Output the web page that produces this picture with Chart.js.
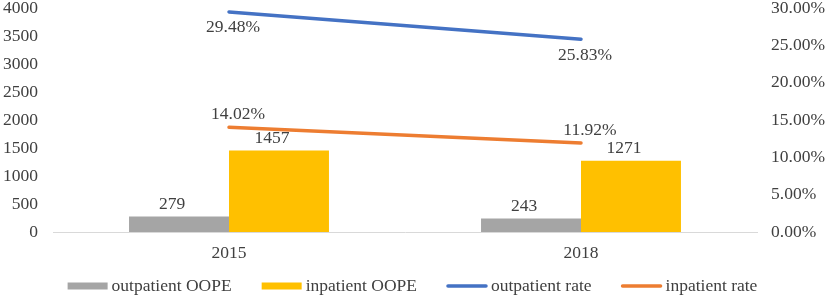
<!DOCTYPE html>
<html>
<head>
<meta charset="utf-8">
<script src="https://cdn.jsdelivr.net/npm/chart.js@4"></script>
<style>
  html, body { margin: 0; padding: 0; background: #fff; }
  #wrap { width: 829px; height: 298px; }
</style>
</head>
<body>
<div id="wrap"><canvas id="chart_oope"></canvas></div>
<script>
var years = ['2015', '2018'];
var outpatientOope = [279, 243];
var inpatientOope = [1457, 1271];
var outpatientRate = [29.48, 25.83];
var inpatientRate = [14.02, 11.92];

var textColor = '#404040';
var fontFamily = '"Liberation Serif", "Times New Roman", serif';
var fontSize = 17.5;

// draws the value labels next to bars and line points
var valueLabels = {
    id: 'valueLabels',
    afterDatasetsDraw: function(chart) {
        var ctx = chart.ctx;
        ctx.save();
        ctx.font = fontSize + 'px ' + fontFamily;
        ctx.fillStyle = textColor;
        ctx.textAlign = 'center';
        ctx.textBaseline = 'middle';
        chart.data.datasets.forEach(function(ds, i) {
            var meta = chart.getDatasetMeta(i);
            meta.data.forEach(function(el, j) {
                var v = ds.data[j];
                if (ds.type === 'bar') {
                    ctx.fillText(String(v), el.x - 7, el.y - 12);
                } else if (ds.labelPos === 'below') {
                    ctx.fillText(v.toFixed(2) + '%', el.x + 4, el.y + 16);
                } else {
                    ctx.fillText(v.toFixed(2) + '%', el.x + 9, el.y - 13);
                }
            });
        });
        ctx.restore();
    }
};

// legend in the bottom strip, bars as flat boxes and lines as strokes
var bottomLegend = {
    id: 'bottomLegend',
    afterDraw: function(chart) {
        var ctx = chart.ctx;
        var boxW = 40, gap = 4, spacing = 30;
        var y = chart.height - 12;
        ctx.save();
        ctx.font = fontSize + 'px ' + fontFamily;
        var items = chart.data.datasets.map(function(ds) {
            return { ds: ds, w: boxW + gap + ctx.measureText(ds.label).width };
        });
        var total = items.reduce(function(s, it) { return s + it.w; }, 0) + spacing * (items.length - 1);
        var x = (chart.width - total) / 2 - 2;
        items.forEach(function(it) {
            var ds = it.ds;
            if (ds.type === 'line') {
                ctx.strokeStyle = ds.borderColor;
                ctx.lineWidth = 3.5;
                ctx.lineCap = 'round';
                ctx.beginPath();
                ctx.moveTo(x + 1, y);
                ctx.lineTo(x + boxW - 1, y);
                ctx.stroke();
            } else {
                ctx.fillStyle = ds.backgroundColor;
                ctx.fillRect(x, y - 3.5, boxW, 7);
            }
            ctx.fillStyle = textColor;
            ctx.textAlign = 'left';
            ctx.textBaseline = 'middle';
            ctx.fillText(ds.label, x + boxW + gap, y);
            x += it.w + spacing;
        });
        ctx.restore();
    }
};

// Chart.js reserves tick padding twice; pin the axis boxes to the reference sizes
function fitVertical(width) {
    return function(axis) {
        axis.width = width;
        axis.paddingTop = 8;
        axis.paddingBottom = 0;
    };
}

var chart_oope = new Chart(document.getElementById('chart_oope'), {
    data: {
        labels: years,
        datasets: [
            {
                type: 'bar',
                label: 'outpatient OOPE',
                data: outpatientOope,
                backgroundColor: '#A5A5A5',
                yAxisID: 'y',
                order: 2
            },
            {
                type: 'bar',
                label: 'inpatient OOPE',
                data: inpatientOope,
                backgroundColor: '#FFC000',
                yAxisID: 'y',
                order: 2
            },
            {
                type: 'line',
                label: 'outpatient rate',
                data: outpatientRate,
                borderColor: '#4472C4',
                backgroundColor: '#4472C4',
                borderWidth: 3.5,
                pointRadius: 0,
                yAxisID: 'y1',
                labelPos: 'below',
                order: 1
            },
            {
                type: 'line',
                label: 'inpatient rate',
                data: inpatientRate,
                borderColor: '#ED7D31',
                backgroundColor: '#ED7D31',
                borderWidth: 3.5,
                pointRadius: 0,
                yAxisID: 'y1',
                labelPos: 'above',
                order: 1
            }
        ]
    },
    options: {
        animation: false,
        responsive: true,
        maintainAspectRatio: false,
        datasets: {
            bar: { barPercentage: 1, categoryPercentage: 0.568 },
            line: { borderCapStyle: 'round' }
        },
        layout: { padding: { top: 0, left: 3, right: 3, bottom: 34 } },
        plugins: {
            tooltip: { enabled: false },
            legend: { display: false }
        },
        scales: {
            x: {
                grid: { display: false, drawTicks: false },
                border: { color: '#D9D9D9', width: 1 },
                ticks: {
                    color: textColor,
                    font: { family: fontFamily, size: fontSize },
                    padding: 11
                },
                afterFit: function(axis) {
                    axis.height = 32;
                    axis.paddingLeft = 0;
                    axis.paddingRight = 0;
                }
            },
            y: {
                position: 'left',
                min: 0,
                max: 4000,
                grid: { display: false, drawTicks: false },
                border: { display: false },
                ticks: {
                    stepSize: 500,
                    color: textColor,
                    font: { family: fontFamily, size: fontSize },
                    padding: 15,
                    callback: function(value) { return String(value); }
                },
                afterFit: fitVertical(50)
            },
            y1: {
                position: 'right',
                min: 0,
                max: 30,
                grid: { display: false, drawTicks: false },
                border: { display: false },
                ticks: {
                    stepSize: 5,
                    color: textColor,
                    font: { family: fontFamily, size: fontSize },
                    padding: 14,
                    callback: function(value) { return value.toFixed(2) + '%'; }
                },
                afterFit: fitVertical(69)
            }
        }
    },
    plugins: [valueLabels, bottomLegend]
});
</script>
</body>
</html>
